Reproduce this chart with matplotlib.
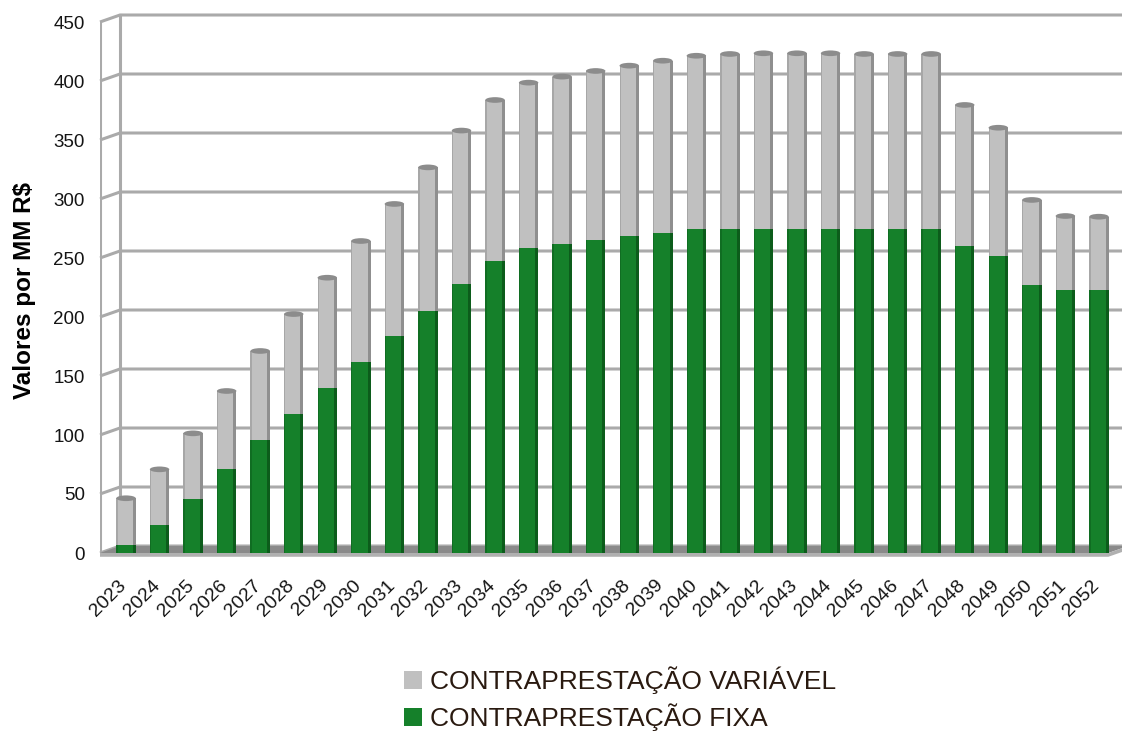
import matplotlib
matplotlib.use("Agg")
import matplotlib.pyplot as plt
import matplotlib.transforms as mtransforms
from matplotlib.patches import Patch, Ellipse, Polygon
import numpy as np

years = [str(y) for y in range(2023, 2053)]
fixa = [6.8, 23.7, 45.5, 70.9, 95.8, 117.5, 139.5, 161.6, 183.9, 205.3,
        227.7, 247.5, 258.2, 261.9, 265.3, 268.6, 271.4, 274.3, 274.6, 274.6,
        274.6, 274.6, 274.6, 274.6, 274.6, 260.2, 251.7, 227.1, 222.9, 222.9]
total = [46.4, 70.9, 101.4, 137.3, 171.2, 202.5, 233.3, 264.4, 295.8, 326.8,
         358.0, 383.9, 398.6, 403.7, 408.5, 413.0, 417.2, 421.4, 422.9, 423.5,
         423.5, 423.5, 422.9, 422.9, 422.9, 379.7, 360.4, 299.2, 285.6, 285.0]
variavel = [t - f for t, f in zip(total, fixa)]
yticks = list(range(0, 451, 50))
legend_labels = ["CONTRAPRESTAÇÃO VARIÁVEL", "CONTRAPRESTAÇÃO FIXA"]

GREEN = "#15802a"
GREEN_D = "#0c5c1b"
GREY = "#c0c0c0"
GREY_D = "#8f8f8f"
GRID = "#aaaaaa"

plt.rcParams['font.family'] = ['Liberation Sans', 'DejaVu Sans']

W, H = 1122, 731
fig = plt.figure(figsize=(W / 100, H / 100), dpi=100)
px_per_unit = 1.18
x0_px, zero_px = 100, 553
top_val = 458
ax_h = top_val * px_per_unit
slot = 33.55
first_center = 126
ax = fig.add_axes([x0_px / W, (H - zero_px) / H, (W - x0_px) / W, ax_h / H])
xmin = -(first_center - x0_px) / slot
xmax = (W - first_center) / slot
ax.set_xlim(xmin, xmax)
ax.set_ylim(0, top_val)

dx = 20 / slot
dy = 7 / px_per_unit

# wall gridlines with 3D offset
for t in yticks:
    ax.plot([xmin, xmin + dx, xmax], [t, t + dy, t + dy], color=GRID, lw=2.2,
            zorder=1, solid_capstyle='butt', clip_on=False)
ax.plot([xmin, xmin], [0, 450], color=GRID, lw=2.2, zorder=1)
ax.plot([xmin + dx, xmin + dx], [dy, 450 + dy], color=GRID, lw=2.2, zorder=1)

# floor (top face + thin front face)
floor_right = len(years) - 1 + 0.28
ax.add_patch(Polygon([(xmin, 0), (floor_right, 0), (floor_right + dx, dy),
                      (xmin + dx, dy)], closed=True, facecolor="#8a8a8a",
                     edgecolor="none", zorder=2))
ax.add_patch(Polygon([(xmin, -3.2), (floor_right, -3.2), (floor_right + dx, dy - 3.2),
                      (floor_right + dx, dy), (floor_right, 0), (xmin, 0)], closed=True,
                     facecolor="#b0b0b0", edgecolor="none", zorder=2, clip_on=False))

x = np.arange(len(years))
bw = 0.58
ax.bar(x, fixa, width=bw, color=GREEN, zorder=3)
ax.bar(x, variavel, bottom=fixa, width=bw, color=GREY, zorder=3)
# cylinder shading strips
sw = 0.09
ax.bar(x + bw / 2 - sw / 2, fixa, width=sw, color=GREEN_D, zorder=4)
ax.bar(x + bw / 2 - sw / 2, variavel, bottom=fixa, width=sw, color=GREY_D, zorder=4)
ax.bar(x - bw / 2 + 0.02, fixa, width=0.04, color=GREEN_D, alpha=0.5, zorder=4)
ax.bar(x - bw / 2 + 0.02, variavel, bottom=fixa, width=0.04, color=GREY_D, alpha=0.5, zorder=4)
for xi, t in zip(x, total):
    ax.add_patch(Ellipse((xi, t), bw, 4.8, facecolor="#8c8c8c", edgecolor="none", zorder=5))

for s in ax.spines.values():
    s.set_visible(False)
ax.set_yticks(yticks)
ax.set_yticklabels([str(t) for t in yticks], fontsize=13.5, color="#141414")
ax.set_xticks(x)
ax.set_xticklabels(years, fontsize=14, color="#141414", rotation=45,
                   ha='right', rotation_mode='anchor')
ax.tick_params(axis='y', length=0, pad=11)
ax.tick_params(axis='x', length=0, pad=17)
off = mtransforms.ScaledTranslation(-8 / 100, 0, fig.dpi_scale_trans)
for lab in ax.get_xticklabels():
    lab.set_transform(lab.get_transform() + off)
ax.set_facecolor('none')

fig.text(25 / W, 1 - 290 / H, "Valores por MM R$", rotation=90, ha='center',
         va='center', fontsize=17.5, fontweight='bold', color='black')

handles = [Patch(facecolor=GREY, edgecolor='none'), Patch(facecolor=GREEN, edgecolor='none')]
fig.legend(handles, legend_labels, loc='center left',
           bbox_to_anchor=(404 / W, 1 - 699 / H), frameon=False,
           fontsize=19, handlelength=0.7, handleheight=0.7,
           handletextpad=0.3, labelspacing=0.35, borderpad=0, borderaxespad=0,
           labelcolor="#2a1a10")

fig.savefig("out.png", dpi=100)
